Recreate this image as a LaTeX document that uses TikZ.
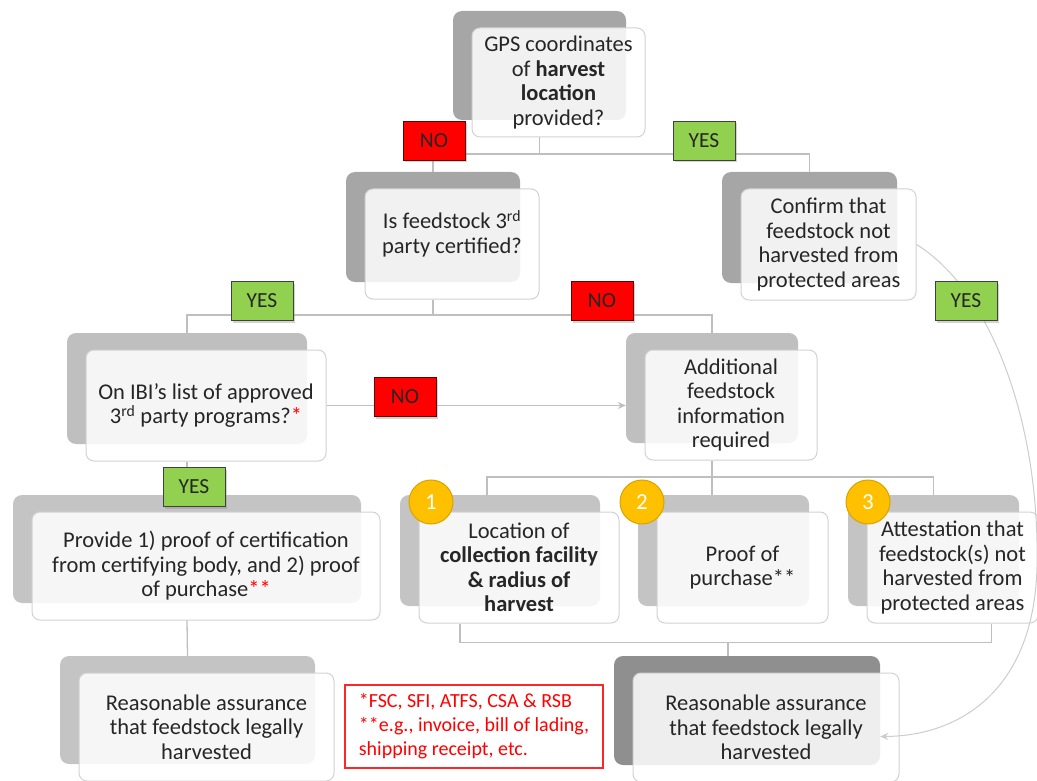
\documentclass[tikz,border=0pt]{standalone}
\usepackage{fontspec}
\setmainfont{Carlito}
\usepackage{tikz}
\usetikzlibrary{calc,shadows,arrows.meta}
\usepackage{xcolor}
\definecolor{ink}{HTML}{262626}
\definecolor{shadeA}{HTML}{A6A6A6}
\definecolor{shadeB}{HTML}{BFBFBF}
\definecolor{shadeC}{HTML}{C4C4C4}
\definecolor{shadeD}{HTML}{8F8F8F}
\definecolor{yesgreen}{HTML}{92D050}
\definecolor{dotgold}{HTML}{FFC000}
\definecolor{linkgray}{HTML}{BFBFBF}

\begin{document}
\begin{tikzpicture}[x=1pt,y=-1pt,
    card/.style={draw=gray!35,line width=1pt,fill=white,fill opacity=0.85,text opacity=1,rounded corners=8pt,align=center,text=ink,inner sep=2pt,font=\fontsize{22.5}{24.5}\selectfont},
    cardback/.style={fill=#1,rounded corners=9pt,inner sep=0pt},
    yesbox/.style={draw=black!75,line width=1pt,fill=yesgreen,minimum width=62,minimum height=39,inner sep=0pt,text=ink,font=\fontsize{21.5}{22}\selectfont,drop shadow={shadow xshift=2pt,shadow yshift=-2pt,opacity=0.35}},
    nobox/.style={yesbox,fill=red,draw=black!60!red},
    numdot/.style={circle,fill=dotgold,draw=dotgold!85!black,line width=1pt,minimum size=44,inner sep=0pt,text=white,font=\fontsize{23}{24}\selectfont},
    link/.style={draw=linkgray,line width=1.3pt},
    bend link/.style={draw=gray!40,line width=1pt}]

    \useasboundingbox (0,0) rectangle (1037,781);

    % Define the displacement as a coordinate
    \coordinate (displace) at (19,17);

    \node[cardback=shadeA,minimum width=173,minimum height=109] (gpsB) at (539.5,65.5) {};
    \node[card,minimum width=173,minimum height=109] (gps) at ($(gpsB)+(displace)$)
        {GPS coordinates\\ of \textbf{harvest}\\ \textbf{location}\\ provided?};

    \node[cardback=shadeA,minimum width=174,minimum height=110] (feedB) at (433,227) {};
    \node[card,minimum width=174,minimum height=110] (feed) at ($(feedB)+(displace)$)
        {Is feedstock 3\textsuperscript{rd}\\ party certified?\\ \mbox{}};

    \node[cardback=shadeA,minimum width=175,minimum height=111] (confB) at (809.5,227.5) {};
    \node[card,minimum width=175,minimum height=111] (conf) at ($(confB)+(displace)$)
        {Confirm that\\ feedstock not\\ harvested from\\ protected areas};

    \node[cardback=shadeB,minimum width=240,minimum height=111] (ibiB) at (187,388.5) {};
    \node[card,minimum width=240,minimum height=111] (ibi) at ($(ibiB)+(displace)$)
        {On IBI’s list of approved\\ 3\textsuperscript{rd} party programs?\textcolor{red}{*}};

    \node[cardback=shadeB,minimum width=172,minimum height=110] (addlB) at (712,388) {};
    \node[card,minimum width=172,minimum height=110] (addl) at ($(addlB)+(displace)$)
        {Additional\\ feedstock\\ information\\ required};

    \node[cardback=shadeC,minimum width=348,minimum height=108] (provB) at (187,549) {};
    \node[card,minimum width=348,minimum height=108] (prov) at ($(provB)+(displace)$)
        {Provide 1) proof of certification\\ from certifying body, and 2) proof\\ of purchase\textcolor{red}{**}};

    \node[cardback=shadeC,minimum width=200,minimum height=111] (locB) at (500,550.5) {};
    \node[card,minimum width=200,minimum height=111] (loc) at ($(locB)+(displace)$)
        {Location of\\ \textbf{collection facility}\\ \textbf{\& radius of}\\ \textbf{harvest}};

    \node[cardback=shadeC,minimum width=171,minimum height=111] (proofB) at (723.5,550.5) {};
    \node[card,minimum width=171,minimum height=111] (proof) at ($(proofB)+(displace)$)
        {Proof of\\ purchase**};

    \node[cardback=shadeC,minimum width=171,minimum height=111] (attB) at (933.5,550.5) {};
    \node[card,minimum width=171,minimum height=111] (att) at ($(attB)+(displace)$)
        {Attestation that\\ feedstock(s) not\\ harvested from\\ protected areas};

    \node[cardback=shadeC,minimum width=255,minimum height=108] (assLB) at (187.5,710) {};
    \node[card,minimum width=255,minimum height=108] (assL) at ($(assLB)+(displace)$)
        {Reasonable assurance\\ that feedstock legally\\ harvested};

    \node[cardback=shadeD,minimum width=266,minimum height=109] (assRB) at (747,710.5) {};
    \node[card,minimum width=266,minimum height=109] (assR) at ($(assRB)+(displace)$)
        {Reasonable assurance\\ that feedstock legally\\ harvested};

    % buses between the levels
    \coordinate (bus1) at (0,154);
    \coordinate (bus2) at (0,315);
    \coordinate (bus3) at (0,477);

    \draw[link] (gpsB.center |- gps.south) -- (gpsB.center |- bus1) -| (feedB.north);
    \draw[link] (gpsB.center |- bus1) -| (confB.north);
    \draw[link] (feedB.center |- feed.south) -- (feedB.center |- bus2) -| (ibiB.north);
    \draw[link] (feedB.center |- bus2) -| (addlB.north);
    \draw[link] (ibiB.center |- ibi.south) -- (provB.north);
    \draw[link] (provB.center |- prov.south) -- (assLB.north);
    \draw[link] (addlB.center |- addl.south) -- (addlB.center |- bus3) -| ($(locB.north)+(-13,0)$);
    \draw[link] (addlB.center |- bus3) -| (attB.north);
    \draw[link] (addlB.center |- bus3) -- (addlB.center |- proofB.north);
    \draw[link] ($(loc.south)+(-59,0)$) |- ($(att.south)+(39,19)$) -- ($(att.south)+(39,0)$);
    \draw[link] ($(assRB.north)+(-19,-14)$) -- ($(assRB.north)+(-19,0)$);

    \draw[link,-{Stealth[length=8pt,width=7pt]}] (ibi.east) -- (ibi.east -| addlB.west);
    \draw[bend link,-{Stealth[length=8pt,width=7pt]}] (conf.east)
        .. controls (990,290) and (1040,420) .. (1037,567)
        .. controls (1034,690) and (960,736) .. ($(assRB.east)+(0,26)$);

    % decision labels
    \node[nobox] (no1) at (434,141) {NO};
    \node[yesbox] (yes1) at (704,141) {YES};
    \node[yesbox] (yes2) at (262,301) {YES};
    \node[nobox] (no2) at (602,301) {NO};
    \node[nobox] (no3) at (405,397) {NO};
    \node[yesbox] (yes3) at (194,487) {YES};
    \node[yesbox] (yes4) at (966,301) {YES};

    \node[numdot] (dot1) at (431,502) {1};
    \node[numdot] (dot2) at (642,502) {2};
    \node[numdot] (dot3) at (868,502) {3};

    \node[draw=red!85,line width=1.2pt,text=red,align=left,minimum width=258,minimum height=83,font=\fontsize{20}{24}\selectfont] (note) at (474,726.5)
        {*FSC, SFI, ATFS, CSA \& RSB\\ **e.g., invoice, bill of lading,\\ shipping receipt, etc.};

\end{tikzpicture}
\end{document}
